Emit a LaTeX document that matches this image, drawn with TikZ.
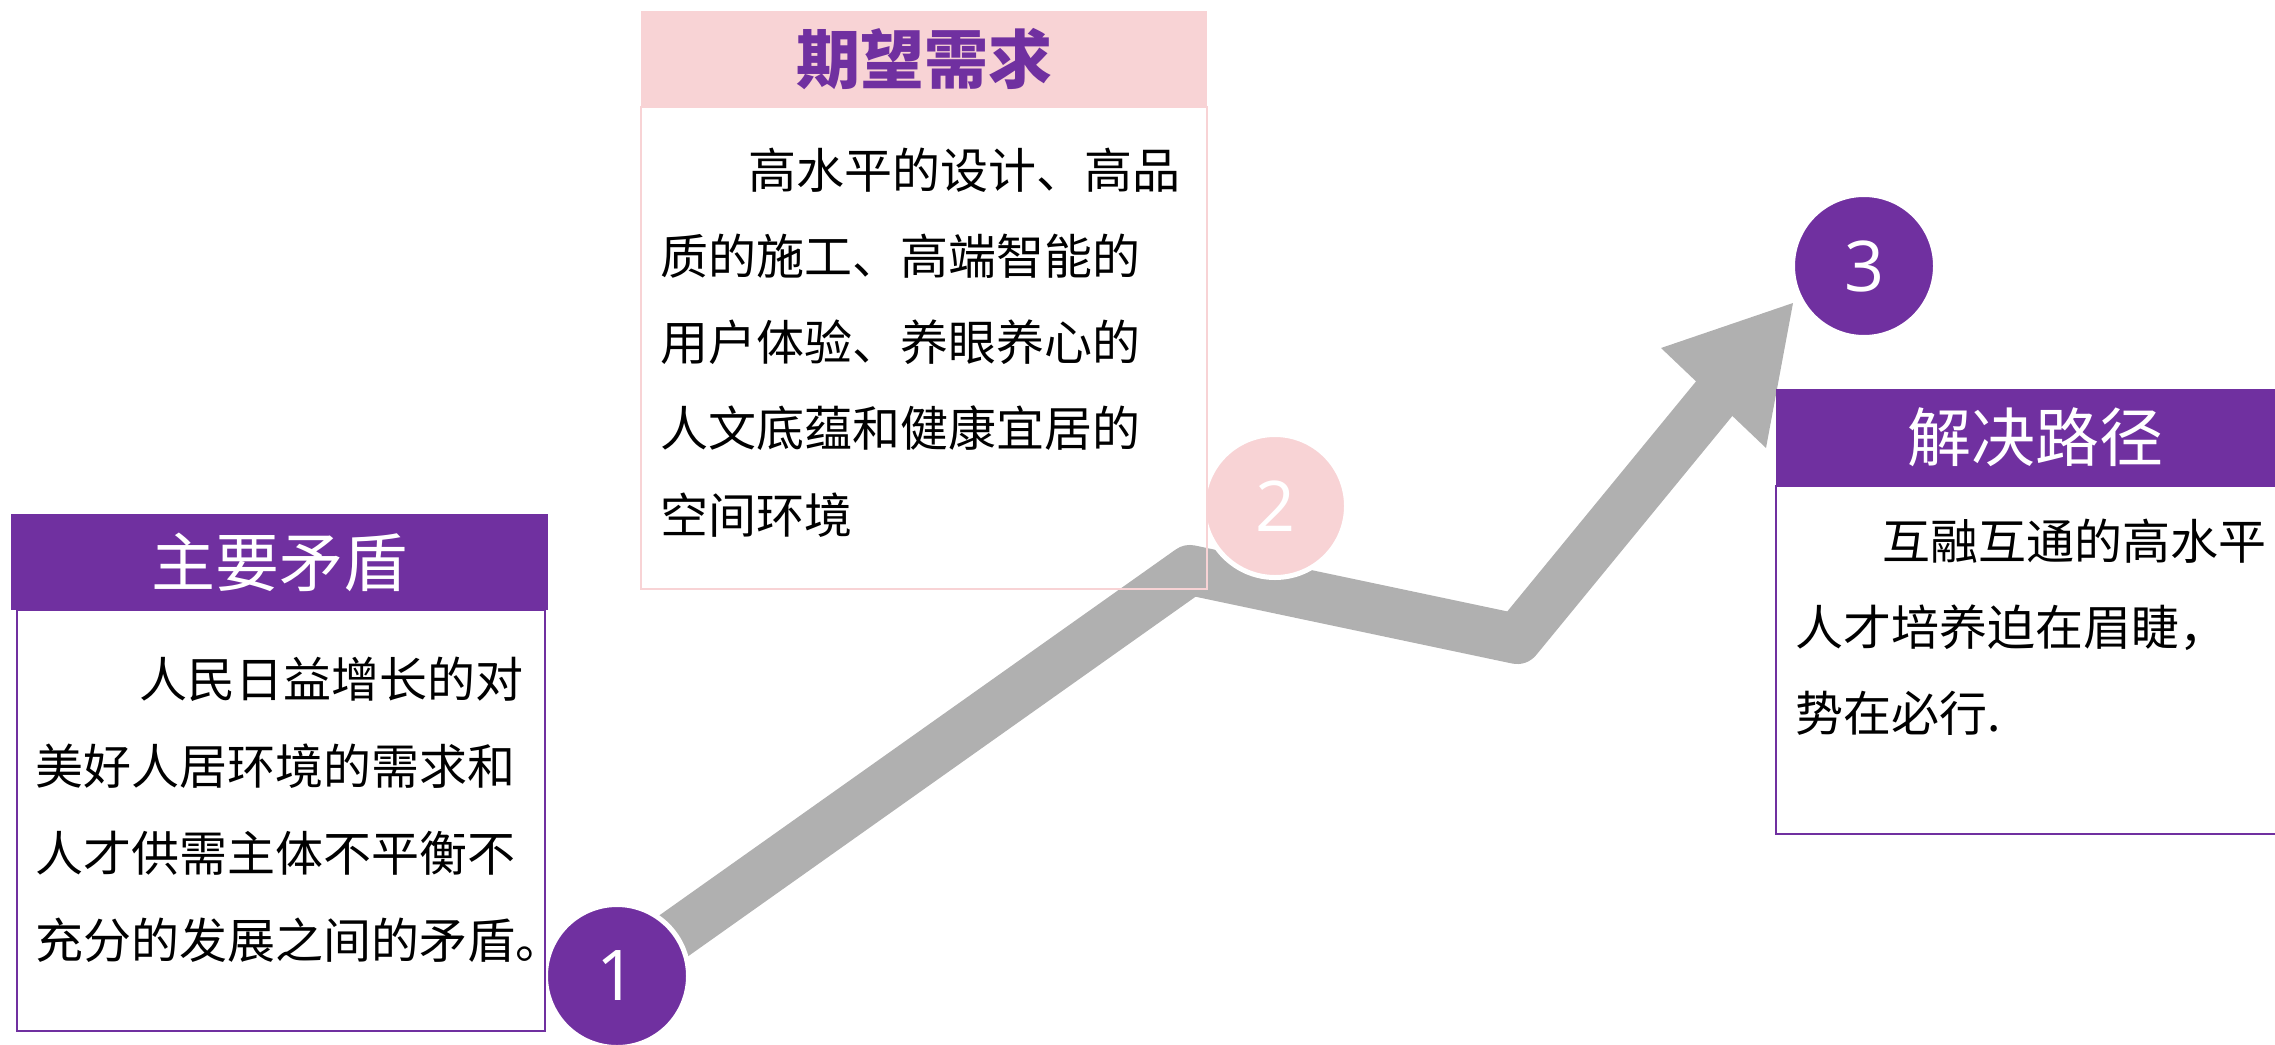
\documentclass[tikz,border=0pt]{standalone}
\usepackage{fontspec}
\setmainfont{Noto Sans CJK SC}
\newfontfamily\numfont{Open Sans}
\definecolor{vio}{HTML}{7030A0}
\definecolor{pinkc}{HTML}{F8D3D5}
\definecolor{arrowgray}{HTML}{B0B0B0}
\begin{document}
\begin{tikzpicture}[x=1pt,y=-1pt,
  arrowline/.style={draw=arrowgray, line width=50pt, line join=round, line cap=butt},
  numcirc/.style={circle, minimum size=143pt, inner sep=0pt, draw=white, line width=5pt,
     text=white, font=\numfont\fontsize{70pt}{70pt}\selectfont},
  titletxt/.style={inner sep=0pt, font=\fontsize{64pt}{64pt}\selectfont},
  bodytxt/.style={inner sep=0pt, anchor=base west, font=\fontsize{48pt}{48pt}\selectfont}]
\useasboundingbox (0,0) rectangle (2275,1044);
\clip (0,0) rectangle (2275,1044);
% positions
\coordinate (p1) at (617,976);
\coordinate (p2) at (1275,506);
\coordinate (p3) at (1864,266);
\coordinate (b1) at (1190,570);
\coordinate (b2) at (1517,639);
\coordinate (hb) at (1718,394);
\coordinate (tip) at (1793,303);
\coordinate (h1) at (1661,348);
\coordinate (h2) at (1766,448);
% arrow
\draw[arrowline] (p1) -- (b1) -- (b2) -- (hb);
\fill[arrowgray] (h1) -- (tip) -- (h2) -- cycle;
% circles
\node[numcirc, fill=vio] (c1) at (p1) {1};
\node[numcirc, fill=pinkc] (c2) at (p2) {2};
\node[numcirc, fill=vio] (c3) at (p3) {3};
% box 1
\fill[vio] (11,514) rectangle (548,610);
\draw[vio, line width=2pt] (16.5,610) rectangle (545,1031);
\node[titletxt, text=white] (t1) at (279.5,562) {主要矛盾};
\foreach \t [count=\i] in {人民日益增长的对, 美好人居环境的需求和, 人才供需主体不平衡不, 充分的发展之间的矛盾。}{
  \pgfmathsetmacro{\xx}{\i==1 ? 139 : 35}
  \node[bodytxt] (a\i) at (\xx, 697+87*\i-87) {\t};
}
% box 2
\fill[pinkc] (641,11) rectangle (1207,107);
\draw[pinkc, line width=2pt] (641,107) rectangle (1207,589);
\node[titletxt, text=vio, font=\fontsize{64pt}{64pt}\selectfont\bfseries] (t2) at (924,59) {期望需求};
\foreach \t [count=\i] in {高水平的设计、高品, 质的施工、高端智能的, 用户体验、养眼养心的, 人文底蕴和健康宜居的, 空间环境}{
  \pgfmathsetmacro{\xx}{\i==1 ? 748 : 660}
  \node[bodytxt] (b\i) at (\xx, 188+86.3*\i-86.3) {\t};
}
% box 3
\fill[vio] (1776,389) rectangle (2294,486);
\draw[vio, line width=2.5pt] (1776,486) rectangle (2294,834);
\node[titletxt, text=white] (t3) at (2035,437.5) {解决路径};
\foreach \t [count=\i] in {互融互通的高水平, 人才培养迫在眉睫，, 势在必行.}{
  \pgfmathsetmacro{\xx}{\i==1 ? 1882 : 1795}
  \node[bodytxt] (d\i) at (\xx, 559+86.3*\i-86.3) {\t};
}
\end{tikzpicture}
\end{document}
